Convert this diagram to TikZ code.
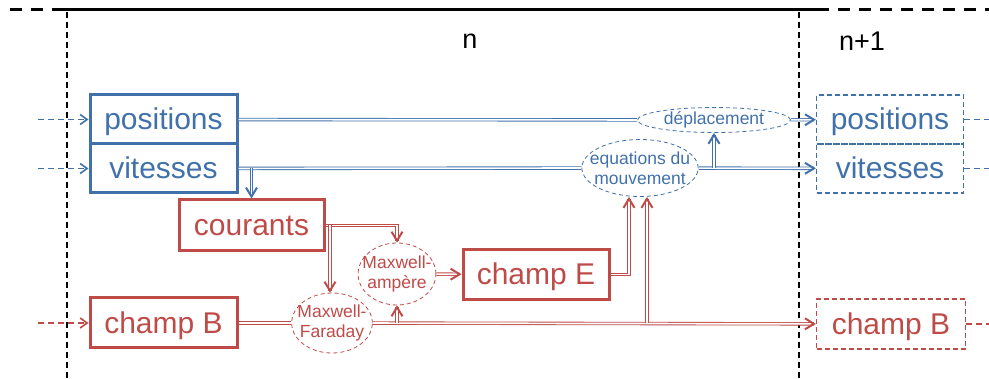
\documentclass[tikz,border=0pt]{standalone}
\usepackage{fontspec}
\setmainfont{Liberation Sans}
\usetikzlibrary{shapes.geometric,arrows.meta,decorations.markings}
\definecolor{bleu}{RGB}{65,113,170}
\definecolor{rouge}{RGB}{190,75,72}

\begin{document}
\begin{tikzpicture}[x=1pt,y=-1pt,
   box/.style={draw,line width=3pt,inner sep=0pt,minimum width=147pt,minimum height=49pt,
      text height=21pt,text depth=0pt,font=\fontsize{30}{36}\selectfont},
   nextbox/.style={box,line width=1.2pt,dash pattern=on 5pt off 3pt},
   bulle/.style={ellipse,draw,line width=0.8pt,dash pattern=on 4pt off 3pt,inner ysep=0pt,
      align=center,font=\fontsize{17.5}{20.5}\selectfont},
   lien/.style={line width=3.4pt,postaction={draw=white,line width=1.7pt}},
   fl/.style={shorten >=2pt,postaction={decorate,decoration={markings,
      mark=at position 1 with {\arrow[line width=2pt]{Straight Barb[length=9pt,width=11pt]}}}}},
   entree/.style={line width=1.1pt,dash pattern=on 6pt off 4pt},
   pointe/.style={-{Straight Barb[length=7pt,width=10pt,line width=1.6pt]}}]
\useasboundingbox (0,0) rectangle (989,379);

% cadre des pas de temps
\draw[line width=3pt] (62,10) -- (817,10);
\draw[line width=3pt,dash pattern=on 12pt off 9pt] (10,10) -- (62,10);
\draw[line width=3pt,dash pattern=on 12pt off 9pt] (817,10) -- (989,10);
\draw[line width=1.2pt,dash pattern=on 6pt off 4pt] (67,12) -- (67,379);
\draw[line width=1.2pt,dash pattern=on 6pt off 4pt] (799,12) -- (799,379);
\node[font=\fontsize{27}{32}\selectfont] (n) at (470,41) {n};
\node[font=\fontsize{27}{32}\selectfont] (n1) at (862,41) {n+1};

% pas n
\node[box,draw=bleu,text=bleu] (pos) at (163.5,119.5) {positions};
\node[box,draw=bleu,text=bleu] (vit) at (163.5,168.5) {vitesses};
\node[box,draw=rouge,text=rouge,minimum width=145pt,minimum height=51pt] (cour) at (251.5,225.5) {courants};
\node[box,draw=rouge,text=rouge,minimum height=50pt] (chB) at (163.5,323) {champ B};
\node[box,draw=rouge,text=rouge,minimum width=146pt,minimum height=50pt] (chE) at (536,274.5) {champ E};
\node[bulle,draw=rouge,text=rouge,inner xsep=-7pt,minimum height=62pt] (MA) at (397,274) {Maxwell-\\ampère};
\node[bulle,draw=rouge,text=rouge,inner xsep=-6pt,minimum height=60pt] (MF) at (332,323) {Maxwell-\\Faraday};
\node[bulle,draw=bleu,text=bleu,inner xsep=0pt,minimum width=153pt,minimum height=25pt] (dep) at (714,120) {déplacement};
\node[bulle,draw=bleu,text=bleu,inner xsep=-9pt,minimum height=57pt] (eq) at (640,168) {equations du\\mouvement};

% pas n+1
\node[nextbox,draw=bleu,text=bleu] (pos1) at (890,119.5) {positions};
\node[nextbox,draw=bleu,text=bleu] (vit1) at (890,168.5) {vitesses};
\node[nextbox,draw=rouge,text=rouge,minimum width=149pt,minimum height=50pt] (chB1) at (891,324) {champ B};

% entrees et sorties
\coordinate (inP) at (38,119.5);
\coordinate (inV) at (38,168.5);
\coordinate (inB) at (38,323);
\coordinate (outP) at (989,119.5);
\coordinate (outV) at (989,168.5);
\coordinate (outB) at (989,324);
\draw[entree,bleu,pointe] (inP) -- (pos);
\draw[entree,bleu,pointe] (inV) -- (vit);
\draw[entree,rouge,pointe] (inB) -- (chB);
\draw[entree,bleu] (pos1) -- (outP);
\draw[entree,bleu] (vit1) -- (outV);
\draw[entree,rouge] (chB1) -- (outB);

% liens
\draw[lien,bleu] (pos) -- (dep);
\draw[lien,bleu,fl] (dep) -- (pos1);
\draw[lien,bleu] (vit) -- (eq);
\draw[lien,bleu,fl] (eq) -- (vit1);
\draw[lien,bleu,fl] (dep.south |- vit1.west) -- (dep.south);
\draw[lien,bleu,fl] (cour.north |- vit.east) -- (cour.north);
\draw[lien,rouge,fl] (cour.east) -| (MA.north);
\draw[lien,rouge,fl] ([xshift=-2pt]MF.north |- cour.east) -- ([xshift=-2pt]MF.north);
\draw[lien,rouge] (chB) -- (MF);
\draw[lien,rouge,fl] (MF) -- (chB1);
\draw[lien,rouge,fl] (MA.south |- chB.east) -- (MA.south);
\draw[lien,rouge,fl] (MA) -- (chE);
\draw[lien,rouge,fl] (chE.east) -| ([xshift=-11pt]eq.south);
\draw[lien,rouge,fl] ([xshift=7pt]eq.south |- chB.east) -- ([xshift=7pt]eq.south);
\end{tikzpicture}
\end{document}
